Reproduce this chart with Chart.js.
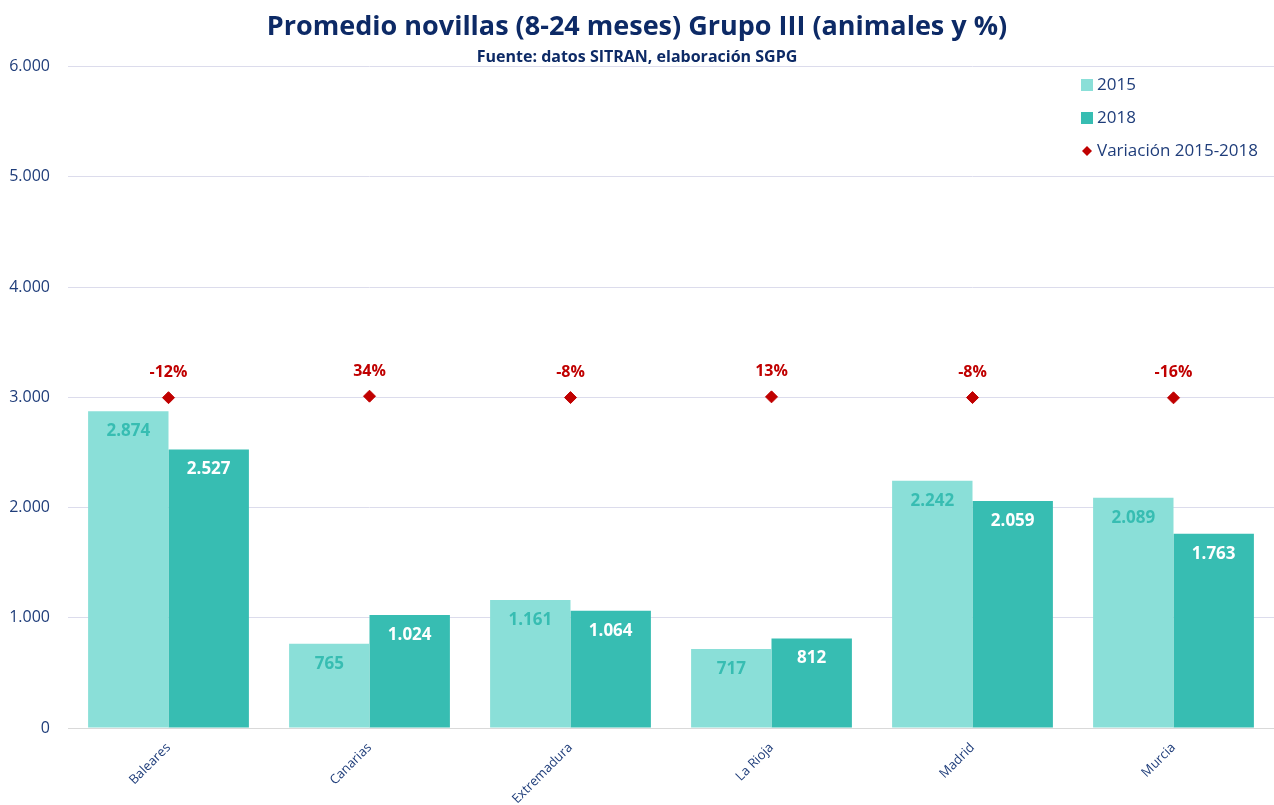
<!DOCTYPE html>
<html>
<head>
<meta charset="utf-8">
<script src="https://cdn.jsdelivr.net/npm/chart.js@4"></script>
<style>
  body { margin: 0; background: #fff; }
  #wrap { width: 1274px; height: 805px; }
</style>
</head>
<body>
<div id="wrap"><canvas id="novillasChart"></canvas></div>
<script>
const regions = ['Baleares', 'Canarias', 'Extremadura', 'La Rioja', 'Madrid', 'Murcia'];
const values2015 = [2874, 765, 1161, 717, 2242, 2089];
const values2018 = [2527, 1024, 1064, 812, 2059, 1763];
const variation = [-12, 34, -8, 13, -8, -16];
const yTicks = [0, 1000, 2000, 3000, 4000, 5000, 6000];

const navy = '#1f3d7a';
const font = "'Open Sans', 'Noto Sans', sans-serif";

// 1234 -> "1.234"
function fmt(n) {
  return String(Math.round(n)).replace(/\B(?=(\d{3})+(?!\d))/g, '.');
}

const labelsPlugin = {
  id: 'labels',
  afterDatasetsDraw(chart) {
    const ctx = chart.ctx;
    ctx.save();
    ctx.textAlign = 'center';
    ctx.textBaseline = 'middle';
    ctx.font = 'bold 17px ' + font;
    [0, 1].forEach(i => {
      const meta = chart.getDatasetMeta(i);
      ctx.fillStyle = i === 0 ? '#37bdb2' : '#ffffff';
      meta.data.forEach((bar, j) => {
        ctx.fillText(fmt(chart.data.datasets[i].data[j]), bar.x, bar.y + 20);
      });
    });
    const pts = chart.getDatasetMeta(2).data;
    ctx.fillStyle = '#c00000';
    ctx.font = 'bold 16px ' + font;
    pts.forEach((p, j) => {
      ctx.fillText(variation[j] + '%', p.x, p.y - 25);
    });
    ctx.restore();
  },
  afterDraw(chart) {
    // legend drawn inside the plot area, top right
    const ctx = chart.ctx;
    ctx.save();
    ctx.font = '17px ' + font;
    ctx.textBaseline = 'middle';
    ctx.textAlign = 'left';
    const items = [
      { text: '2015', color: '#8adfd8', type: 'box' },
      { text: '2018', color: '#37bdb2', type: 'box' },
      { text: 'Variación 2015-2018', color: '#c00000', type: 'diamond' }
    ];
    items.forEach((it, k) => {
      const y = 85 + k * 33;
      ctx.fillStyle = it.color;
      if (it.type === 'box') {
        ctx.fillRect(1081, y - 6, 12, 12);
      } else {
        ctx.beginPath();
        ctx.moveTo(1087, y - 5);
        ctx.lineTo(1092, y);
        ctx.lineTo(1087, y + 5);
        ctx.lineTo(1082, y);
        ctx.closePath();
        ctx.fill();
      }
      ctx.fillStyle = navy;
      ctx.fillText(it.text, 1097, y);
    });
    ctx.restore();
  }
};

new Chart(document.getElementById('novillasChart'), {
  type: 'bar',
  data: {
    labels: regions,
    datasets: [
      {
        label: '2015',
        data: values2015,
        backgroundColor: '#8adfd8',
        categoryPercentage: 0.8,
        barPercentage: 1.0,
        order: 2
      },
      {
        label: '2018',
        data: values2018,
        backgroundColor: '#37bdb2',
        categoryPercentage: 0.8,
        barPercentage: 1.0,
        order: 2
      },
      {
        label: 'Variación 2015-2018',
        type: 'line',
        data: variation,
        yAxisID: 'y2',
        showLine: false,
        pointStyle: 'rectRot',
        pointRadius: 6,
        pointBackgroundColor: '#c00000',
        pointBorderColor: '#c00000',
        order: 1
      }
    ]
  },
  options: {
    responsive: true,
    maintainAspectRatio: false,
    animation: false,
    layout: { autoPadding: false },
    plugins: {
      legend: { display: false },
      tooltip: { enabled: false },
      title: {
        display: true,
        text: 'Promedio novillas (8-24 meses) Grupo III (animales y %)',
        color: '#0d2a66',
        font: { family: font, size: 27, weight: 'bold' },
        padding: { top: 11, bottom: 0 }
      },
      subtitle: {
        display: true,
        text: 'Fuente: datos SITRAN, elaboración SGPG',
        color: '#0d2a66',
        font: { family: font, size: 16, weight: 'bold' },
        padding: { top: 4, bottom: 0 }
      }
    },
    scales: {
      x: {
        grid: { display: false },
        border: { color: '#d9d9d9', width: 1 },
        afterFit(scale) {
          scale.height = 77;
        },
        ticks: {
          color: navy,
          font: { family: font, size: 13 },
          maxRotation: 45,
          minRotation: 45,
          padding: 4
        }
      },
      y: {
        min: 0,
        max: 6000,
        afterBuildTicks(scale) {
          scale.ticks = yTicks.map(v => ({ value: v }));
        },
        afterFit(scale) { scale.width = 68; },
        grid: { color: '#dcdcec', drawTicks: false },
        border: { display: false },
        ticks: {
          color: navy,
          font: { family: font, size: 16 },
          padding: 18,
          callback: v => fmt(v)
        }
      },
      y2: {
        display: false,
        min: -10000,
        max: 10000
      }
    }
  },
  plugins: [labelsPlugin]
});
</script>
</body>
</html>
